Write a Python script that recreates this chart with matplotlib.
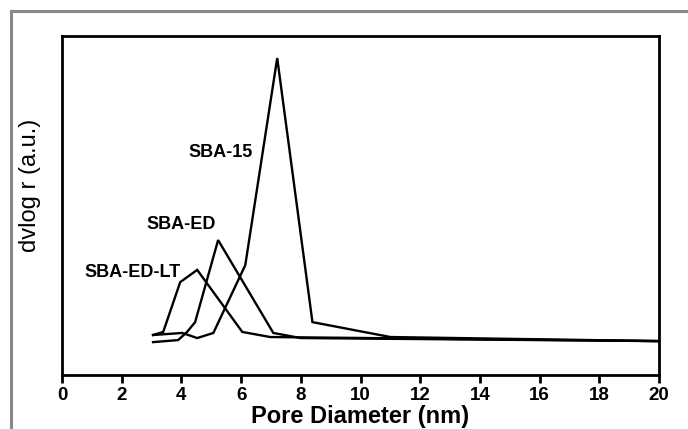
import matplotlib.pyplot as plt
from matplotlib.lines import Line2D

# pore size distribution (y in arbitrary units, 0-100)
x_sba15 = [3.05, 4.03, 4.53, 5.07, 6.14, 7.21, 8.39, 11.0, 20.0]
y_sba15 = [11.8, 12.4, 10.9, 12.4, 32.4, 93.5, 15.6, 11.2, 10.0]

x_ed = [3.05, 3.89, 4.19, 4.46, 5.23, 7.08, 7.99, 20.0]
y_ed = [9.7, 10.3, 12.7, 15.6, 39.8, 12.4, 10.9, 10.0]

x_edlt = [3.05, 3.39, 3.96, 4.53, 6.04, 6.98, 20.0]
y_edlt = [11.8, 12.7, 27.4, 31.0, 12.7, 11.2, 10.0]

labels = ["SBA-15", "SBA-ED", "SBA-ED-LT"]
label_pos = [(5.30, 65.5), (3.99, 44.5), (2.38, 30.1)]

xticks = list(range(0, 21, 2))

plt.rcParams['font.family'] = ['Liberation Sans', 'DejaVu Sans']

fig = plt.figure(figsize=(6.88, 4.29), dpi=100)
ax = fig.add_axes([62/688, 54/429, 597/688, 339/429])

for xs, ys in [(x_sba15, y_sba15), (x_ed, y_ed), (x_edlt, y_edlt)]:
    ax.plot(xs, ys, color='black', lw=1.7, solid_joinstyle='miter')

for t, (tx, ty) in zip(labels, label_pos):
    ax.text(tx, ty, t, ha='center', va='center', fontsize=13, fontweight='bold')

ax.set_xlim(0, 20)
ax.set_ylim(0, 100)
ax.set_xticks(xticks)
ax.set_yticks([])
ax.tick_params(axis='x', direction='out', length=6, width=2, labelsize=13.5, pad=3)
for lab in ax.get_xticklabels():
    lab.set_fontweight('bold')
for s in ax.spines.values():
    s.set_linewidth(2)

ax.set_xlabel("Pore Diameter (nm)", fontsize=17, fontweight='bold', labelpad=0)
ax.set_ylabel("dvlog r (a.u.)", fontsize=17)
ax.yaxis.set_label_coords(-0.035, 0.558)

# grey frame round the picture (cut off at right and bottom)
fig.add_artist(Line2D([10.5/688, 1.0], [1 - 10.5/429, 1 - 10.5/429],
                      transform=fig.transFigure, color='#888888', lw=2.2))
fig.add_artist(Line2D([10.5/688, 10.5/688], [0.0, 1 - 10.5/429],
                      transform=fig.transFigure, color='#888888', lw=2.2))

fig.savefig("out.png", dpi=100)
